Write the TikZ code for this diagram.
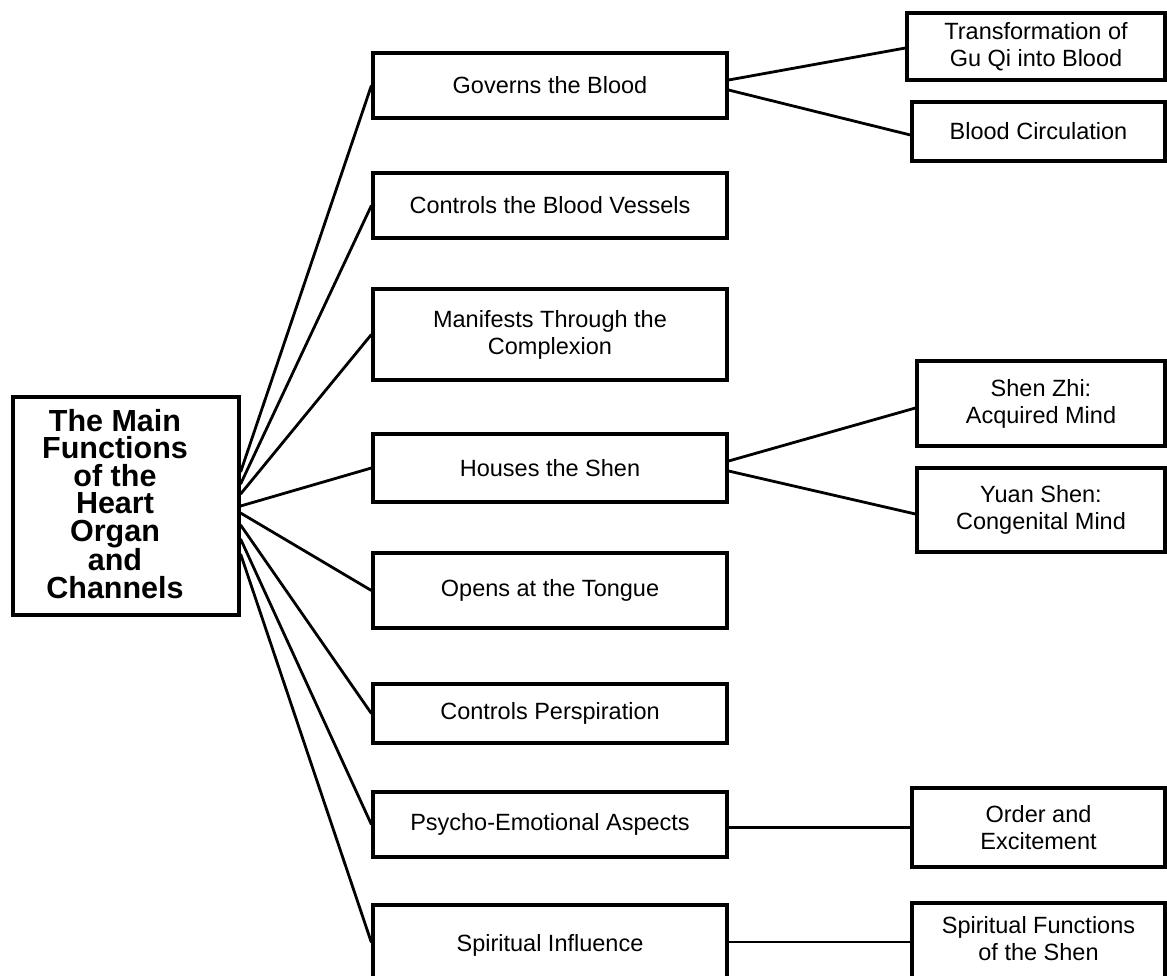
\documentclass[tikz,border=0pt]{standalone}
\usepackage{fontspec}
\setmainfont{Liberation Sans}
\begin{document}
\begin{tikzpicture}[x=1pt,y=-1pt,
  box/.style={draw, line width=3.2pt, rectangle, inner sep=0pt, align=center,
    font=\fontsize{23.5}{27}\selectfont},
  midbox/.style={box, minimum width=354pt},
  subbox/.style={box},
  link/.style={line width=2.8pt}]
\useasboundingbox (0,0) rectangle (1167,975);
\clip (0,0) rectangle (1167,975);
\fill[white] (0,0) rectangle (1167,975);

% root box and its title
\node[box, minimum width=226pt, minimum height=218pt] (main) at (126,506) {};
\node[align=center, inner sep=0pt,
  font=\bfseries\fontsize{30.5}{27.5}\selectfont] (title) at (115,504)
  {The Main\\Functions\\of the\\Heart\\Organ\\and\\Channels};

% first level
\node[midbox, minimum height=65pt] (gov)   at (550,85.5)  {Governs the Blood};
\node[midbox, minimum height=65pt] (ves)   at (550,205.5) {Controls the Blood Vessels};
\node[midbox, minimum height=91pt] (comp)  at (550,334.5) {Manifests Through the\\Complexion};
\node[midbox, minimum height=68pt] (shen)  at (550,468)   {Houses the Shen};
\node[midbox, minimum height=75pt] (tong)  at (550,590.5) {Opens at the Tongue};
\node[midbox, minimum height=59pt] (persp) at (550,713.5) {Controls Perspiration};
\node[midbox, minimum height=65pt] (psy)   at (550,824.5) {Psycho-Emotional Aspects};
\node[midbox, minimum height=84pt, text depth=8pt] (spir) at (550,947) {Spiritual Influence};

% second level
\node[subbox, minimum width=258pt, minimum height=67pt] (guqi)  at (1036,46.5)   {Transformation of\\Gu Qi into Blood};
\node[subbox, minimum width=253pt, minimum height=59pt] (circ)  at (1038.5,131.5) {Blood Circulation};
\node[subbox, minimum width=248pt, minimum height=85pt] (zhi)   at (1041,403.5)  {Shen Zhi:\\Acquired Mind};
\node[subbox, minimum width=248pt, minimum height=84pt] (yuan)  at (1041,510)    {Yuan Shen:\\Congenital Mind};
\node[subbox, minimum width=253pt, minimum height=79pt] (order) at (1038.5,827.5) {Order and\\Excitement};
\node[subbox, minimum width=253pt, minimum height=84pt, text depth=13pt] (sfun) at (1038.5,945)
  {Spiritual Functions\\of the Shen};

% fan from the root box
\draw[link] ([yshift=34pt]main.east)  -- (gov.west);
\draw[link] ([yshift=22pt]main.east)  -- (ves.west);
\draw[link] ([yshift=12pt]main.east)  -- (comp.west);
\draw[link] (main.east)               -- (shen.west);
\draw[link] ([yshift=-7pt]main.east)  -- (tong.west);
\draw[link] ([yshift=-19pt]main.east) -- (persp.west);
\draw[link] ([yshift=-33pt]main.east) -- (psy.west);
\draw[link] ([yshift=-48pt]main.east) -- ([yshift=4.5pt]spir.west);

% branches to the second level
\draw[link] ([yshift=5.5pt]gov.east)  -- ([yshift=-1.5pt]guqi.west);
\draw[link] ([yshift=-4.5pt]gov.east) -- ([yshift=-3.5pt]circ.west);
\draw[link] ([yshift=7pt]shen.east)   -- ([yshift=-4.5pt]zhi.west);
\draw[link] ([yshift=-3pt]shen.east)  -- ([yshift=-4pt]yuan.west);
\draw[link] (psy.east |- order.west)  -- (order.west);
\draw[link] ([yshift=5pt]spir.east) -- ([yshift=5pt]spir.east -| sfun.west);
\end{tikzpicture}
\end{document}
